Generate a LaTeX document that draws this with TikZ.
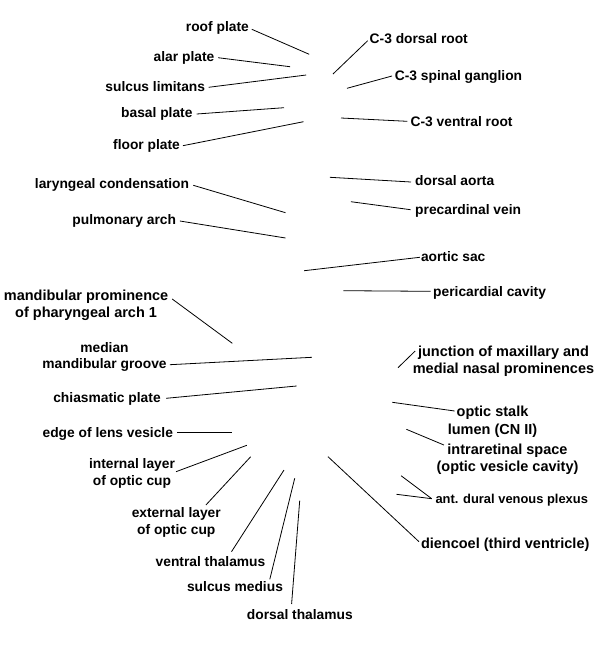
\documentclass[tikz,border=0pt]{standalone}
\usepackage{fontspec}
\setmainfont{Liberation Sans}
\begin{document}
\begin{tikzpicture}[x=1pt,y=-1pt,
  lab/.style={inner sep=0pt,outer sep=0pt,font=\bfseries\fontsize{13.8}{17}\selectfont},
  labs/.style={inner sep=0pt,outer sep=0pt,font=\bfseries\fontsize{12.9}{16}\selectfont},
  labl/.style={inner sep=0pt,outer sep=0pt,font=\bfseries\fontsize{14.5}{17}\selectfont},
  ml/.style={lab,align=center},
  mll/.style={labl,align=center},
  lead/.style={draw=black,line width=0.8pt}]
\useasboundingbox (0,0) rectangle (600,646);
% ---------- left labels ----------
\node[lab,anchor=base east] (roof) at (248.8,31) {roof plate};
\node[lab,anchor=base east] (alar) at (214.3,61.7) {alar plate};
\node[lab,anchor=base east] (sulcus) at (205.1,91) {sulcus limitans};
\node[lab,anchor=base east] (basal) at (192.5,117.7) {basal plate};
\node[lab,anchor=base east] (floor) at (179.9,149.3) {floor plate};
\node[lab,anchor=base east] (laryn) at (189.1,188.3) {laryngeal condensation};
\node[lab,anchor=base east] (pulm) at (176,224) {pulmonary arch};
\node[mll] (mandp) at (86.1,305.7) {mandibular prominence\\of pharyngeal arch 1};
\node[ml,font=\bfseries\fontsize{13.8}{16}\selectfont] (medg) at (104.5,357) {median\\mandibular groove};
\node[lab,anchor=base east] (chias) at (160.7,402.7) {chiasmatic plate};
\node[lab,anchor=base east] (lens) at (173,437.3) {edge of lens vesicle};
\node[ml] (intl) at (132,473.7) {internal layer\\of optic cup};
\node[ml] (extl) at (176.3,522.5) {external layer\\of optic cup};
\node[lab,anchor=base] (vthal) at (210.5,566.3) {ventral thalamus};
\node[lab,anchor=base] (smed) at (235,591) {sulcus medius};
\node[lab,anchor=base] (dthal) at (299.85,619) {dorsal thalamus};
% ---------- right labels ----------
\node[lab,anchor=base west] (c3d) at (369.7,43.7) {C-3 dorsal root};
\node[lab,anchor=base west] (c3g) at (394.9,80.3) {C-3 spinal ganglion};
\node[lab,anchor=base west] (c3v) at (410.6,126) {C-3 ventral root};
\node[lab,anchor=base west] (daorta) at (415.2,185.3) {dorsal aorta};
\node[lab,anchor=base west] (precv) at (415.2,214.3) {precardinal vein};
\node[lab,anchor=base west] (asac) at (421,261.7) {aortic sac};
\node[lab,anchor=base west] (peric) at (433.2,296) {pericardial cavity};
\node[mll] (junc) at (503.5,360.8) {junction of maxillary and\\medial nasal prominences};
\node[mll,font=\bfseries\fontsize{14.5}{18.5}\selectfont] (ostalk) at (492.5,421.8) {optic stalk\\lumen (CN II)};
\node[mll] (intra) at (507.5,458.8) {intraretinal space\\(optic vesicle cavity)};
\node[labs,anchor=base west] (adural) at (435.5,503.3) {ant. dural venous plexus};
\node[labl,anchor=base west] (dienc) at (421,548.9) {diencoel (third ventricle)};
% ---------- target points ----------
\coordinate (t-roof) at (309.2,54.3);
\coordinate (t-alar) at (290.1,66.7);
\coordinate (t-sulcus) at (306.2,75);
\coordinate (t-basal) at (284,107.7);
\coordinate (t-floor) at (303.5,121.7);
\coordinate (t-laryn) at (285.5,212.7);
\coordinate (t-pulm) at (285.5,238);
\coordinate (t-mandp) at (232.3,343.3);
\coordinate (t-medg) at (311.9,357.3);
\coordinate (t-chias) at (296.6,386);
\coordinate (t-lens) at (231.9,432.3);
\coordinate (t-intl) at (246.8,445.3);
\coordinate (t-extl) at (250.7,456.7);
\coordinate (t-vthal) at (284,470);
\coordinate (t-smed) at (294.7,478.3);
\coordinate (t-dthal) at (299.7,500.7);
\coordinate (t-c3d) at (333,74);
\coordinate (t-c3g) at (347,88.3);
\coordinate (t-c3v) at (341,118);
\coordinate (t-daorta) at (329.9,177.3);
\coordinate (t-precv) at (350.9,201.7);
\coordinate (t-asac) at (304.2,270.7);
\coordinate (t-peric) at (343.3,290.7);
\coordinate (t-junc) at (398,367.7);
\coordinate (t-ostalk) at (392.3,402.3);
\coordinate (t-intra) at (406.4,429.3);
\coordinate (t-adural1) at (401.1,475.7);
\coordinate (t-adural2) at (396.5,494.3);
\coordinate (t-dienc) at (328,456.7);
% ---------- leader lines ----------
\draw[lead] (roof.base east) ++(3,-1.7) -- (t-roof);
\draw[lead] (alar.base east) ++(3.8,-4) -- (t-alar);
\draw[lead] (sulcus.base east) ++(3.5,-3.7) -- (t-sulcus);
\draw[lead] (basal.base east) ++(4.2,-3.7) -- (t-basal);
\draw[lead] (floor.base east) ++(3,-3.6) -- (t-floor);
\draw[lead] (laryn.base east) ++(4.2,-3) -- (t-laryn);
\draw[lead] (pulm.base east) ++(3.9,-3) -- (t-pulm);
\draw[lead] (mandp.center) ++(86.1,-6.7) -- (t-mandp);
\draw[lead] (medg.center) ++(65.4,7.7) -- (t-medg);
\draw[lead] (chias.base east) ++(5.4,-4.4) -- (t-chias);
\draw[lead] (lens.base east) ++(4.2,-5) -- (t-lens);
\draw[lead] (intl.center) ++(44,-2) -- (t-intl);
\draw[lead] (extl.center) ++(29.6,-17.5) -- (t-extl);
\draw[lead] (vthal.base) ++(21,-14.6) -- (t-vthal);
\draw[lead] (smed.base) ++(34.8,-11.7) -- (t-smed);
\draw[lead] (dthal.base) ++(-8.25,-15) -- (t-dthal);
\draw[lead] (c3d.base west) ++(-2,-3) -- (t-c3d);
\draw[lead] (c3g.base west) ++(-2.9,-4.3) -- (t-c3g);
\draw[lead] (c3v.base west) ++(-3.3,-4.7) -- (t-c3v);
\draw[lead] (daorta.base west) ++(-4.2,-3.3) -- (t-daorta);
\draw[lead] (precv.base west) ++(-4.6,-4.6) -- (t-precv);
\draw[lead] (asac.base west) ++(-1.2,-4.4) -- (t-asac);
\draw[lead] (peric.base west) ++(-2.7,-4.7) -- (t-peric);
\draw[lead] (junc.center) ++(-88.3,-9.8) -- (t-junc);
\draw[lead] (ostalk.center) ++(-37.9,-10.8) -- (t-ostalk);
\draw[lead] (intra.center) ++(-63.6,-13.8) -- (t-intra);
\draw[lead] (adural.base west) ++(-3.8,-4.6) -- (t-adural1);
\draw[lead] (adural.base west) ++(-3.8,-4.6) -- (t-adural2);
\draw[lead] (dienc.base west) ++(-2,-7.2) -- (t-dienc);
\end{tikzpicture}
\end{document}
